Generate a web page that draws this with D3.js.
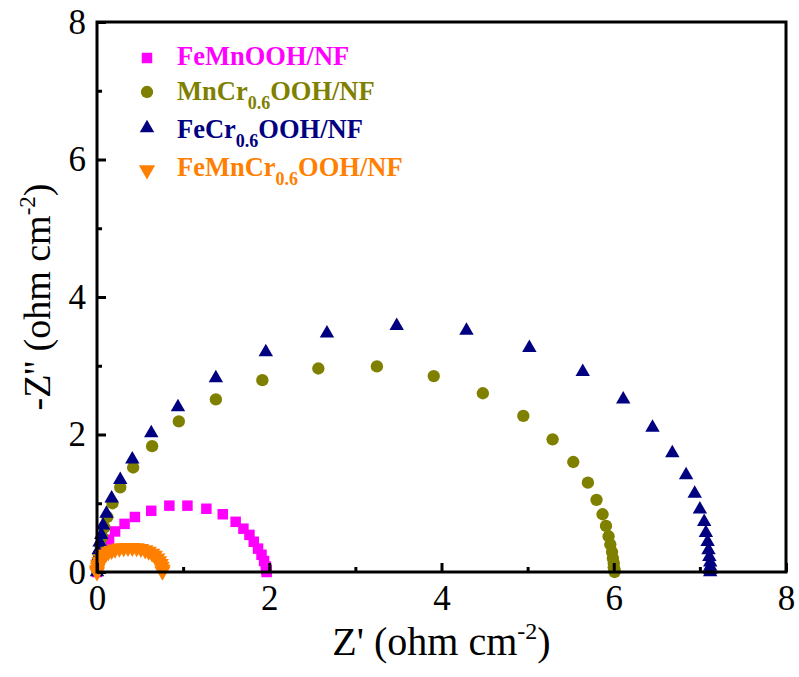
<!DOCTYPE html>
<html>
<head>
<meta charset="utf-8">
<script src="https://cdn.jsdelivr.net/npm/d3@7"></script>
<style>
  body { margin: 0; background: #fff; }
  text { font-family: "Liberation Serif", "Times New Roman", serif; }
</style>
</head>
<body>
<div id="chart"></div>
<script>
// Nyquist data (Z' , -Z'') in ohm cm^-2
var feMnX = [0.00, 0.01, 0.03, 0.05, 0.08, 0.14, 0.21, 0.32, 0.44, 0.63, 0.84, 1.05, 1.27, 1.46, 1.61, 1.70, 1.77, 1.82, 1.87, 1.91, 1.94, 1.96, 1.97, 1.97];
var feMnY = [0.00, 0.09, 0.18, 0.27, 0.37, 0.47, 0.59, 0.70, 0.80, 0.89, 0.965, 0.965, 0.92, 0.84, 0.73, 0.63, 0.54, 0.44, 0.34, 0.25, 0.16, 0.08, 0.03, 0.00];

var mnCrX = [0.00, 0.01, 0.02, 0.04, 0.06, 0.085, 0.12, 0.18, 0.27, 0.42, 0.64, 0.95, 1.38, 1.92, 2.57, 3.25, 3.91, 4.48, 4.95, 5.29, 5.53, 5.70, 5.80, 5.87, 5.91, 5.94, 5.96, 5.98, 5.99, 6.00, 6.00, 6.01, 6.01];
var mnCrY = [0.03, 0.14, 0.26, 0.38, 0.51, 0.65, 0.80, 1.00, 1.23, 1.52, 1.83, 2.19, 2.51, 2.79, 2.96, 2.99, 2.85, 2.60, 2.27, 1.93, 1.60, 1.30, 1.05, 0.84, 0.67, 0.52, 0.40, 0.29, 0.20, 0.13, 0.07, 0.03, 0.00];

var feCrX = [0.00, 0.00, 0.01, 0.02, 0.03, 0.05, 0.07, 0.11, 0.17, 0.27, 0.41, 0.63, 0.94, 1.38, 1.96, 2.67, 3.48, 4.29, 5.02, 5.64, 6.11, 6.45, 6.68, 6.84, 6.94, 7.00, 7.05, 7.07, 7.09, 7.10, 7.11, 7.12, 7.12, 7.12, 7.12];
var feCrY = [0.00, 0.10, 0.21, 0.32, 0.43, 0.54, 0.68, 0.85, 1.07, 1.34, 1.64, 2.02, 2.40, 2.82, 3.20, 3.47, 3.58, 3.51, 3.26, 2.91, 2.51, 2.10, 1.73, 1.41, 1.14, 0.91, 0.73, 0.57, 0.44, 0.32, 0.22, 0.14, 0.08, 0.03, 0.00];

var feMnCrX = [0.00, 0.00, 0.01, 0.015, 0.03, 0.05, 0.07, 0.10, 0.13, 0.17, 0.21, 0.26, 0.31, 0.36, 0.41, 0.46, 0.51, 0.56, 0.60, 0.64, 0.67, 0.70, 0.72, 0.74, 0.75, 0.76, 0.76];
var feMnCrY = [0.00, 0.03, 0.07, 0.11, 0.15, 0.19, 0.23, 0.26, 0.29, 0.31, 0.33, 0.345, 0.35, 0.355, 0.355, 0.35, 0.34, 0.32, 0.30, 0.27, 0.24, 0.20, 0.16, 0.12, 0.08, 0.04, 0.01];

var majorTicks = [0, 2, 4, 6, 8];
var minorTicks = [1, 3, 5, 7];

var series = [
  { name: "FeMnOOH/NF", sub: null, x: feMnX, y: feMnY, color: "#ff00ff", shape: d3.symbolSquare, size: 110, rot: 0 },
  { name: "MnCr", sub: "0.6", rest: "OOH/NF", x: mnCrX, y: mnCrY, color: "#808000", shape: d3.symbolCircle, size: 120, rot: 0 },
  { name: "FeCr", sub: "0.6", rest: "OOH/NF", x: feCrX, y: feCrY, color: "#000080", shape: d3.symbolTriangle, size: 90, rot: 0 },
  { name: "FeMnCr", sub: "0.6", rest: "OOH/NF", x: feMnCrX, y: feMnCrY, color: "#ff8000", shape: d3.symbolTriangle, size: 115, rot: 180 }
];

var svgWidth = 799, svgHeight = 677;
var margin = { top: 22, right: 13, bottom: 105, left: 97 };
var width = svgWidth - margin.left - margin.right;
var height = svgHeight - margin.top - margin.bottom;

var svg = d3.select("#chart").append("svg")
  .attr("width", svgWidth)
  .attr("height", svgHeight)
  .style("background", "#fff");

var chartGroup = svg.append("g")
  .attr("transform", `translate(${margin.left}, ${margin.top})`);

var x = d3.scaleLinear().domain([0, 8]).range([0, width]);
var y = d3.scaleLinear().domain([0, 8]).range([height, 0]);

// points
series.forEach(function(s) {
  var pts = s.x.map((v, i) => [v, s.y[i]]);
  chartGroup.append("g").selectAll("path")
    .data(pts)
    .enter()
    .append("path")
    .attr("d", d3.symbol().type(s.shape).size(s.size))
    .attr("transform", d => `translate(${x(d[0])}, ${y(d[1])}) rotate(${s.rot})`)
    .attr("fill", s.color);
});

// axes (ticks pointing inward)
chartGroup.append("g")
  .attr("transform", `translate(0, ${height})`)
  .call(d3.axisBottom(x).tickValues(majorTicks).tickSize(-9).tickPadding(13).tickFormat(d3.format("d")));
chartGroup.append("g")
  .attr("transform", `translate(0, ${height})`)
  .call(d3.axisBottom(x).tickValues(minorTicks).tickSize(-5).tickFormat(""));
chartGroup.append("g")
  .call(d3.axisLeft(y).tickValues(majorTicks).tickSize(-9).tickPadding(11).tickFormat(d3.format("d")));
chartGroup.append("g")
  .call(d3.axisLeft(y).tickValues(minorTicks).tickSize(-5).tickFormat(""));

chartGroup.selectAll(".domain").remove();
chartGroup.selectAll(".tick line").attr("stroke", "#000").attr("stroke-width", 3);
chartGroup.selectAll(".tick text")
  .attr("fill", "#000")
  .style("font-size", "35px");

// frame
chartGroup.append("rect")
  .attr("x", 0).attr("y", 0)
  .attr("width", width).attr("height", height)
  .attr("fill", "none")
  .attr("stroke", "#000")
  .attr("stroke-width", 3);

// axis titles
var xTitle = svg.append("text")
  .attr("x", margin.left + width / 2)
  .attr("y", 655)
  .attr("text-anchor", "middle")
  .style("font-size", "40px");
xTitle.append("tspan").text("Z' (ohm cm");
xTitle.append("tspan").attr("dy", -16).style("font-size", "24px").text("-2");
xTitle.append("tspan").attr("dy", 16).text(")");

var yTitle = svg.append("text")
  .attr("transform", `translate(50, ${margin.top + height / 2}) rotate(-90)`)
  .attr("text-anchor", "middle")
  .style("font-size", "38px");
yTitle.append("tspan").text("-Z'' (ohm cm");
yTitle.append("tspan").attr("dy", -15).style("font-size", "23px").text("-2");
yTitle.append("tspan").attr("dy", 15).text(")");

// legend
var legendRows = [58, 92, 128, 170];
var textBase = [65, 100, 138, 176];
series.forEach(function(s, i) {
  svg.append("path")
    .attr("d", d3.symbol().type(s.shape).size(s.size))
    .attr("transform", `translate(147, ${legendRows[i]}) rotate(${s.rot})`)
    .attr("fill", s.color);
  var t = svg.append("text")
    .attr("x", 177)
    .attr("y", textBase[i])
    .attr("fill", s.color)
    .style("font-size", "26.5px")
    .style("font-weight", "bold");
  t.append("tspan").text(s.name);
  if (s.sub) {
    t.append("tspan").attr("dy", 9).style("font-size", "18px").text(s.sub);
    t.append("tspan").attr("dy", -9).text(s.rest);
  }
});
</script>
</body>
</html>
